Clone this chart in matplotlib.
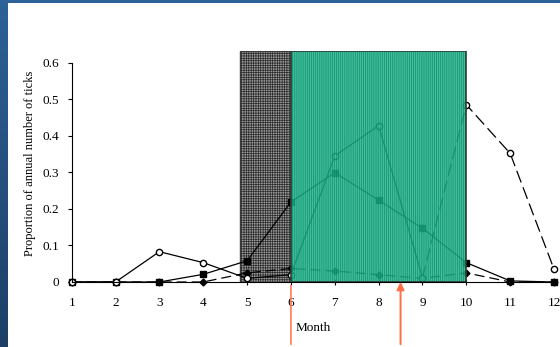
import numpy as np
import matplotlib
matplotlib.use("Agg")
import matplotlib.pyplot as plt
from matplotlib.patches import Rectangle

# dados
meses = np.arange(1, 13)
quadrados = [0, 0, 0, 0.021, 0.058, 0.219, 0.299, 0.224, 0.147, 0.053, 0.003, 0]
losangos = [0, 0, 0, 0.0, 0.025, 0.037, 0.03, 0.02, 0.01, 0.025, 0, 0]
circulos_a = [0, 0, 0.083, 0.053, 0.01, 0.02, 0.345, 0.428, 0.012, np.nan, np.nan, np.nan]
circulos_b = [np.nan] * 8 + [0.012, 0.485, 0.352, 0.035]
xticks = list(range(1, 13))
yticks = [0, 0.1, 0.2, 0.3, 0.4, 0.5, 0.6]
faixa_cinza = (4.84, 6)
faixa_verde = (6, 10)
setas = [6, 8.5]

plt.rcParams['font.family'] = ['Liberation Serif', 'DejaVu Serif']
plt.rcParams['hatch.linewidth'] = 0.5

fig = plt.figure(figsize=(5.6, 3.47), dpi=100)
fig.patch.set_facecolor('white')

# moldura azul do slide
grad = np.linspace(0, 1, 256).reshape(-1, 1)
ax_bg = fig.add_axes([0, 0, 8 / 560, 1])
ax_bg.imshow(grad, aspect='auto', cmap=matplotlib.colors.LinearSegmentedColormap.from_list(
    'azul', ['#2d6197', '#1d3f66']), extent=[0, 1, 0, 1])
ax_bg.axis('off')
fig.patches.append(Rectangle((0, 1 - 3 / 347), 1, 3 / 347, transform=fig.transFigure,
                             facecolor='#2d6197', edgecolor='none'))

ax = fig.add_axes([71.7 / 560, 65 / 347, (554 - 71.7) / 560, 231 / 347])
topo = 0.632
ax.set_xlim(1, 12)
ax.set_ylim(0, topo)

# faixa cinza (atras das linhas)
ax.add_patch(Rectangle((faixa_cinza[0], 0), faixa_cinza[1] - faixa_cinza[0], topo,
                       facecolor='#9a9a9a', edgecolor='#2a2a2a', hatch='+++++++',
                       linewidth=0, zorder=0))
ax.add_patch(Rectangle((faixa_cinza[0], 0), faixa_cinza[1] - faixa_cinza[0], topo,
                       facecolor='none', edgecolor='#3a3a3a', linewidth=1, zorder=0.5))

ax.plot(meses, quadrados, color='black', lw=0.9, marker='s', ms=4, mfc='black', zorder=2, clip_on=False)
ax.plot(meses, losangos, color='black', lw=0.9, ls=(0, (8, 4)), marker='D', ms=3.5, mfc='black', zorder=2, clip_on=False)
ax.plot(meses, circulos_a, color='black', lw=0.9, marker='o', ms=4.5, mfc='white', zorder=2, clip_on=False)
ax.plot(meses, circulos_b, color='black', lw=0.9, ls=(0, (10, 4)), marker='o', ms=4.5, mfc='white', zorder=2, clip_on=False)

# faixa verde (por cima das linhas)
ax.add_patch(Rectangle((faixa_verde[0], 0), faixa_verde[1] - faixa_verde[0], topo,
                       facecolor='#1db58c', edgecolor='#0f7f60', hatch='||||||||',
                       linewidth=0, alpha=0.85, zorder=3))
ax.add_patch(Rectangle((faixa_verde[0], 0), faixa_verde[1] - faixa_verde[0], topo,
                       facecolor='none', edgecolor='#2e3b36', linewidth=1.2, zorder=3.5))

for s in ['top', 'right']:
    ax.spines[s].set_visible(False)
ax.spines['left'].set_bounds(0, 0.6)
ax.spines['bottom'].set_zorder(4)
ax.set_yticks(yticks)
ax.set_yticklabels(['0', '0.1', '0.2', '0.3', '0.4', '0.5', '0.6'])
ax.set_xticks(xticks)
ax.tick_params(axis='y', direction='out', length=3, pad=6, labelsize=9.5)
ax.tick_params(axis='x', direction='inout', length=4, pad=9, labelsize=9.5)
ax.set_xlabel('Month', fontsize=9.5, labelpad=9)
ax.set_ylabel('Proportion of annual number of ticks', fontsize=9)
ax.yaxis.set_label_coords(-0.074, 0.513)
ax.patch.set_alpha(0)

# setas laranja
cor = '#ff6f45'
ax.annotate('', xy=(setas[0], -0.003), xytext=(setas[0], 0), textcoords=('data', 'figure fraction'),
            arrowprops=dict(arrowstyle='-', color=cor, lw=1.4, alpha=0.8), annotation_clip=False)
ax.annotate('', xy=(setas[1], 0.008), xytext=(setas[1], 0), textcoords=('data', 'figure fraction'),
            arrowprops=dict(arrowstyle='-|>,head_length=0.45,head_width=0.22', color=cor, lw=1.4),
            annotation_clip=False, zorder=5)

fig.savefig('out.png', dpi=100)
